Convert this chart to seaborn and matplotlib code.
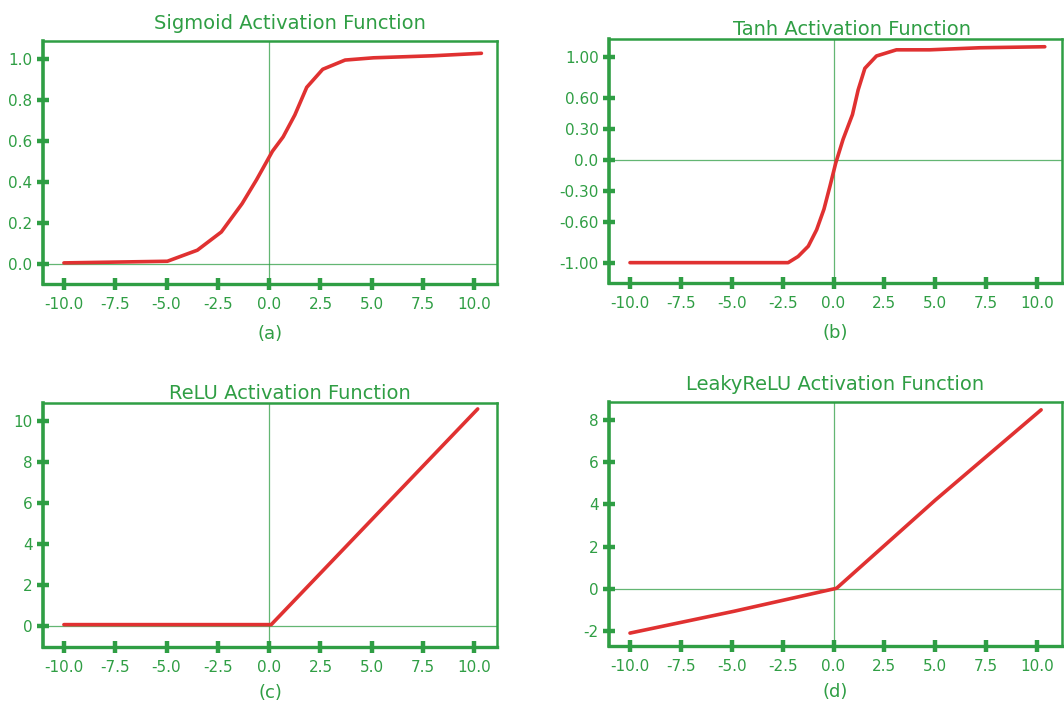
import matplotlib
matplotlib.use("Agg")
import matplotlib.pyplot as plt
import seaborn as sns
import pandas as pd

GREEN = "#2f9e44"
RED = "#e03131"

# Curve samples for each activation function
sigmoid_x = [-10, -4.96, -3.5, -2.33, -1.32, -0.62, 0.16, 0.68, 1.25, 1.83, 2.61, 3.7, 5.08, 8.0, 10.34]
sigmoid_y = [0.005, 0.013, 0.067, 0.156, 0.294, 0.41, 0.55, 0.62, 0.727, 0.862, 0.95, 0.995, 1.006, 1.016, 1.028]

tanh_x = [-10, -2.23, -1.74, -1.24, -0.83, -0.47, -0.18, 0.11, 0.47, 0.93, 1.21, 1.54, 2.11, 3.09, 4.73, 7.18, 10.38]
tanh_y = [-1.0, -1.0, -0.94, -0.84, -0.68, -0.48, -0.26, -0.03, 0.20, 0.44, 0.68, 0.89, 1.01, 1.07, 1.07, 1.09, 1.10]

relu_x = [-10, 0.1, 10.16]
relu_y = [0.08, 0.08, 10.6]

leaky_x = [-10, -4.9, 0.15, 5.0, 10.2]
leaky_y = [-2.09, -1.06, 0.03, 4.2, 8.47]

x_ticks = [-10.0, -7.5, -5.0, -2.5, 0.0, 2.5, 5.0, 7.5, 10.0]
x_tick_labels = ["-10.0", "-7.5", "-5.0", "-2.5", "0.0", "2.5", "5.0", "7.5", "10.0"]

sigmoid_yticks = [0.0, 0.2, 0.4, 0.6, 0.8, 1.0]
sigmoid_ylabels = ["0.0", "0.2", "0.4", "0.6", "0.8", "1.0"]
tanh_yticks = [-1.0, -0.6, -0.3, 0.0, 0.3, 0.6, 1.0]
tanh_ylabels = ["-1.00", "-0.60", "-0.30", "0.0", "0.30", "0.60", "1.00"]
relu_yticks = [0, 2, 4, 6, 8, 10]
relu_ylabels = ["0", "2", "4", "6", "8", "10"]
leaky_yticks = [-2, 0, 2, 4, 6, 8]
leaky_ylabels = ["-2", "0", "2", "4", "6", "8"]

titles = ["Sigmoid Activation Function", "Tanh Activation Function",
          "ReLU Activation Function", "LeakyReLU Activation Function"]
captions = ["(a)", "(b)", "(c)", "(d)"]

sns.set_theme(style="white")
plt.rcParams["font.family"] = ["DejaVu Sans"]

fig = plt.figure(figsize=(10.64, 7.07), dpi=100)

panels = [
    dict(rect=[0.0404, 0.5983, 0.4267, 0.3437], x=sigmoid_x, y=sigmoid_y,
         yticks=sigmoid_yticks, ylabels=sigmoid_ylabels, xlim=(-11.02, 11.1), ylim=(-0.098, 1.088),
         title_x=0.544, title_pad=9, cap_pad=9),
    dict(rect=[0.5724, 0.5997, 0.4258, 0.3451], x=tanh_x, y=tanh_y,
         yticks=tanh_yticks, ylabels=tanh_ylabels, xlim=(-11.03, 11.23), ylim=(-1.198, 1.175),
         title_x=0.536, title_pad=3, cap_pad=9),
    dict(rect=[0.0404, 0.0849, 0.4267, 0.3451], x=relu_x, y=relu_y,
         yticks=relu_yticks, ylabels=relu_ylabels, xlim=(-11.02, 11.1), ylim=(-1.01, 10.89),
         title_x=0.544, title_pad=3, cap_pad=6),
    dict(rect=[0.5724, 0.0863, 0.4258, 0.3451], x=leaky_x, y=leaky_y,
         yticks=leaky_yticks, ylabels=leaky_ylabels, xlim=(-11.03, 11.23), ylim=(-2.70, 8.84),
         title_x=0.5, title_pad=9, cap_pad=6),
]

for p, title, cap in zip(panels, titles, captions):
    ax = fig.add_axes(p["rect"])
    df = pd.DataFrame({"x": p["x"], "y": p["y"]})
    # thin reference lines through the origin
    ax.axhline(0, color=GREEN, lw=0.9, alpha=0.75, zorder=1)
    ax.axvline(0, color=GREEN, lw=0.9, alpha=0.75, zorder=1)
    sns.lineplot(data=df, x="x", y="y", ax=ax, color=RED, lw=2.6, zorder=3,
                 solid_capstyle="round", solid_joinstyle="round")
    ax.set_xlim(*p["xlim"])
    ax.set_ylim(*p["ylim"])
    ax.set_xticks(x_ticks)
    ax.set_xticklabels(x_tick_labels)
    ax.set_yticks(p["yticks"])
    ax.set_yticklabels(p["ylabels"])
    for side, spine in ax.spines.items():
        spine.set_visible(True)
        spine.set_color(GREEN)
        spine.set_linewidth(1.8)
    ax.spines["left"].set_linewidth(2.6)
    ax.spines["bottom"].set_linewidth(2.4)
    ax.tick_params(axis="both", colors=GREEN, labelcolor=GREEN, direction="inout",
                   length=9, width=3.2, labelsize=11, bottom=True, left=True)
    ax.tick_params(axis="x", pad=5)
    ax.tick_params(axis="y", pad=3)
    ax.set_title(title, color=GREEN, fontsize=14, pad=p["title_pad"], x=p["title_x"])
    ax.set_xlabel(cap, color=GREEN, fontsize=13, labelpad=p["cap_pad"])
    ax.set_ylabel("")

fig.savefig("out.png", dpi=100, facecolor="white")
